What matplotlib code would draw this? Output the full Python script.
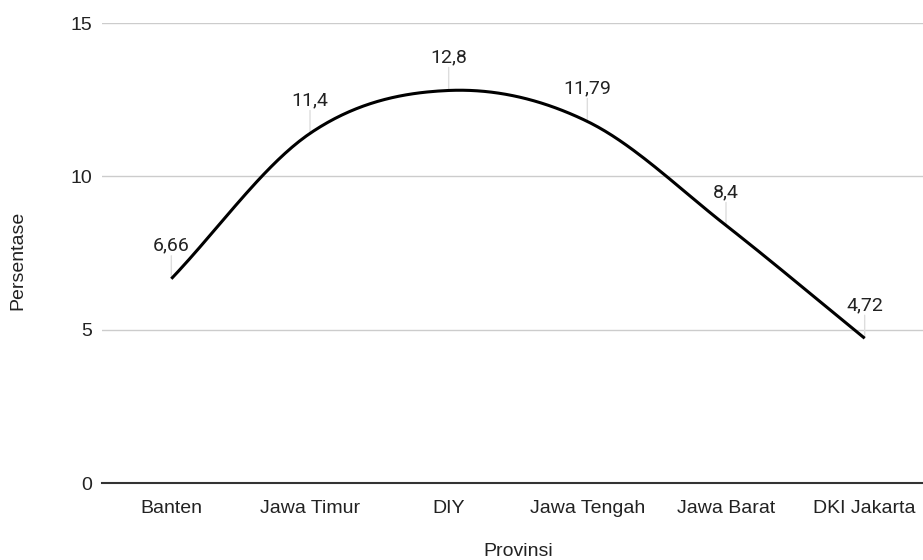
import numpy as np
import matplotlib.pyplot as plt

provinsi = ["Banten", "Jawa Timur", "DIY", "Jawa Tengah", "Jawa Barat", "DKI Jakarta"]
persentase = [6.66, 11.4, 12.8, 11.79, 8.4, 4.72]
label_nilai = ["6,66", "11,4", "12,8", "11,79", "8,4", "4,72"]
y_ticks = [0, 5, 10, 15]

plt.rcParams['font.family'] = ['Liberation Sans', 'DejaVu Sans']
TEXT = '#222222'


def smooth_curve(x, y, n=40, tension=0.5):
    # cardinal spline through every point
    x = np.asarray(x, float)
    y = np.asarray(y, float)
    px = np.concatenate([[2 * x[0] - x[1]], x, [2 * x[-1] - x[-2]]])
    py = np.concatenate([[2 * y[0] - y[1]], y, [2 * y[-1] - y[-2]]])
    xs, ys = [], []
    t = np.linspace(0, 1, n)
    h00 = 2 * t**3 - 3 * t**2 + 1
    h10 = t**3 - 2 * t**2 + t
    h01 = -2 * t**3 + 3 * t**2
    h11 = t**3 - t**2
    for i in range(1, len(px) - 2):
        mx0 = tension * (px[i + 1] - px[i - 1])
        mx1 = tension * (px[i + 2] - px[i])
        my0 = tension * (py[i + 1] - py[i - 1])
        my1 = tension * (py[i + 2] - py[i])
        xs.append(h00 * px[i] + h10 * mx0 + h01 * px[i + 1] + h11 * mx1)
        ys.append(h00 * py[i] + h10 * my0 + h01 * py[i + 1] + h11 * my1)
    return np.concatenate(xs), np.concatenate(ys)


fig = plt.figure(figsize=(9.23, 5.6), dpi=100)
ax = fig.add_axes([102 / 923, (560 - 483) / 560, 832 / 923, 460 / 560])

x = np.arange(len(provinsi))
cx, cy = smooth_curve(x, persentase)
ax.plot(cx, cy, color='black', lw=2.2, solid_capstyle='butt', zorder=3)

for i, (v, lab) in enumerate(zip(persentase, label_nilai)):
    ax.annotate('', xy=(i, v), xytext=(0, 23), textcoords='offset pixels',
                arrowprops=dict(arrowstyle='-', color='#dddddd', lw=1,
                                shrinkA=0, shrinkB=0), zorder=2)
    ax.annotate(lab, xy=(i, v), xytext=(0, 28), textcoords='offset pixels',
                ha='center', va='baseline', fontsize=14, color=TEXT,
                family=['Roboto', 'DejaVu Sans'])

ax.set_xlim(-0.5, len(provinsi) - 0.5)
ax.set_ylim(0, 15)
ax.set_yticks(y_ticks)
ax.set_xticks(x)
ax.set_xticklabels(provinsi)
ax.tick_params(axis='both', length=0, labelsize=14, labelcolor=TEXT)
ax.tick_params(axis='y', pad=7)
ax.tick_params(axis='x', pad=12)
ax.grid(axis='y', color='#cccccc', lw=1)
ax.set_axisbelow(True)
for s in ['top', 'right', 'left']:
    ax.spines[s].set_visible(False)
ax.spines['bottom'].set_color('#333333')
ax.spines['bottom'].set_linewidth(1.5)

fig.text(18 / 923, 1 - 260 / 560, 'Persentase', rotation=90, ha='center', va='center',
         fontsize=14, color=TEXT)
fig.text(518 / 923, 1 - 551 / 560, 'Provinsi', ha='center', va='center',
         fontsize=14, color=TEXT)

fig.savefig('out.png', dpi=100)
